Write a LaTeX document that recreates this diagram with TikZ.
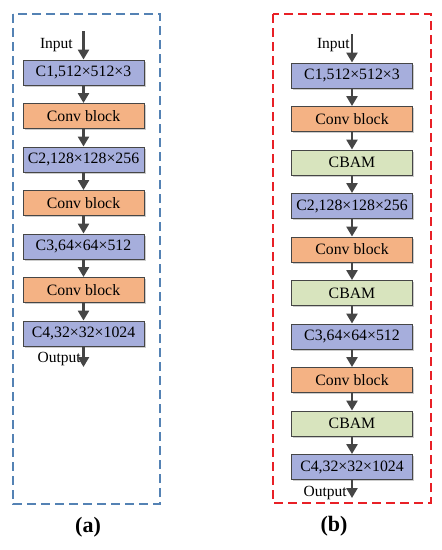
\documentclass[tikz,border=0pt]{standalone}
\usepackage{fontspec}
\setmainfont{Liberation Serif}
\usetikzlibrary{positioning,arrows.meta,shadows}
\definecolor{layerblue}{RGB}{166,174,220}
\definecolor{convorange}{RGB}{244,178,132}
\definecolor{cbamgreen}{RGB}{216,228,190}
\definecolor{framblue}{RGB}{84,130,180}
\definecolor{framred}{RGB}{232,32,38}
\definecolor{edgegray}{RGB}{70,70,70}
\begin{document}
\begin{tikzpicture}[x=1pt,y=-1pt,
  blk/.style={draw=edgegray,line width=0.9pt,minimum width=121pt,minimum height=25pt,inner sep=0pt,
    font=\fontsize{15.8}{18}\selectfont,
    drop shadow={shadow xshift=1.5pt,shadow yshift=-1.5pt,fill=black!40,opacity=.5}},
  layer/.style={blk,fill=layerblue},
  conv/.style={blk,fill=convorange},
  cbam/.style={blk,fill=cbamgreen},
  flow/.style={-{Triangle[width=11pt,length=10pt]},draw=edgegray,line width=2.4pt},
  frame/.style={line width=2.2pt,dash pattern=on 9pt off 5pt},
  lbl/.style={font=\fontsize{15.5}{18}\selectfont,inner sep=0pt}]
\useasboundingbox (0,0) rectangle (442,550);
% (a) baseline
\draw[frame,draw=framblue] (13,14) rectangle (160,504);
\node[layer] (a1) at (83.5,72.5) {C1,512×512×3};
\node[conv,below=17.6pt of a1] (a2) {Conv block};
\node[layer,below=17.6pt of a2] (a3) {C2,128×128×256};
\node[conv,below=17.6pt of a3] (a4) {Conv block};
\node[layer,below=17.6pt of a4] (a5) {C3,64×64×512};
\node[conv,below=17.6pt of a5] (a6) {Conv block};
\node[layer,below=17.6pt of a6] (a7) {C4,32×32×1024};
\coordinate (ain) at (83.5,31);
\coordinate (aout) at (83.5,367);
\node[lbl,anchor=base east] (ainl) at (73,48) {Input};
\node[lbl,anchor=base east] (aoutl) at (81,362) {Output};
\draw[flow] (ain) -- (a1);
\foreach \i/\j in {a1/a2,a2/a3,a3/a4,a4/a5,a5/a6,a6/a7}
  \draw[flow] (\i) -- (\j);
\draw[flow] (a7) -- (aout);
\node[font=\fontsize{22}{26}\selectfont\bfseries] (acap) at (88,527) {(a)};
% (b) with CBAM
\draw[frame,draw=framred] (273,14) rectangle (431,503);
\node[layer] (b1) at (352,75.5) {C1,512×512×3};
\node[conv,below=17.6pt of b1] (b2) {Conv block};
\node[cbam,below=17.6pt of b2] (b3) {CBAM};
\node[layer,below=17.6pt of b3] (b4) {C2,128×128×256};
\node[conv,below=17.6pt of b4] (b5) {Conv block};
\node[cbam,below=17.6pt of b5] (b6) {CBAM};
\node[layer,below=17.6pt of b6] (b7) {C3,64×64×512};
\node[conv,below=17.6pt of b7] (b8) {Conv block};
\node[cbam,below=17.6pt of b8] (b9) {CBAM};
\node[layer,below=17.6pt of b9] (b10) {C4,32×32×1024};
\coordinate (bin) at (352,34);
\coordinate (bout) at (352,498);
\node[lbl,anchor=base east] (binl) at (350,48) {Input};
\node[lbl,anchor=base east] (boutl) at (347,496) {Output};
\draw[flow] (bin) -- (b1);
\foreach \i/\j in {b1/b2,b2/b3,b3/b4,b4/b5,b5/b6,b6/b7,b7/b8,b8/b9,b9/b10}
  \draw[flow] (\i) -- (\j);
\draw[flow] (b10) -- (bout);
\node[font=\fontsize{22}{26}\selectfont\bfseries] (bcap) at (334,526) {(b)};
\end{tikzpicture}
\end{document}
